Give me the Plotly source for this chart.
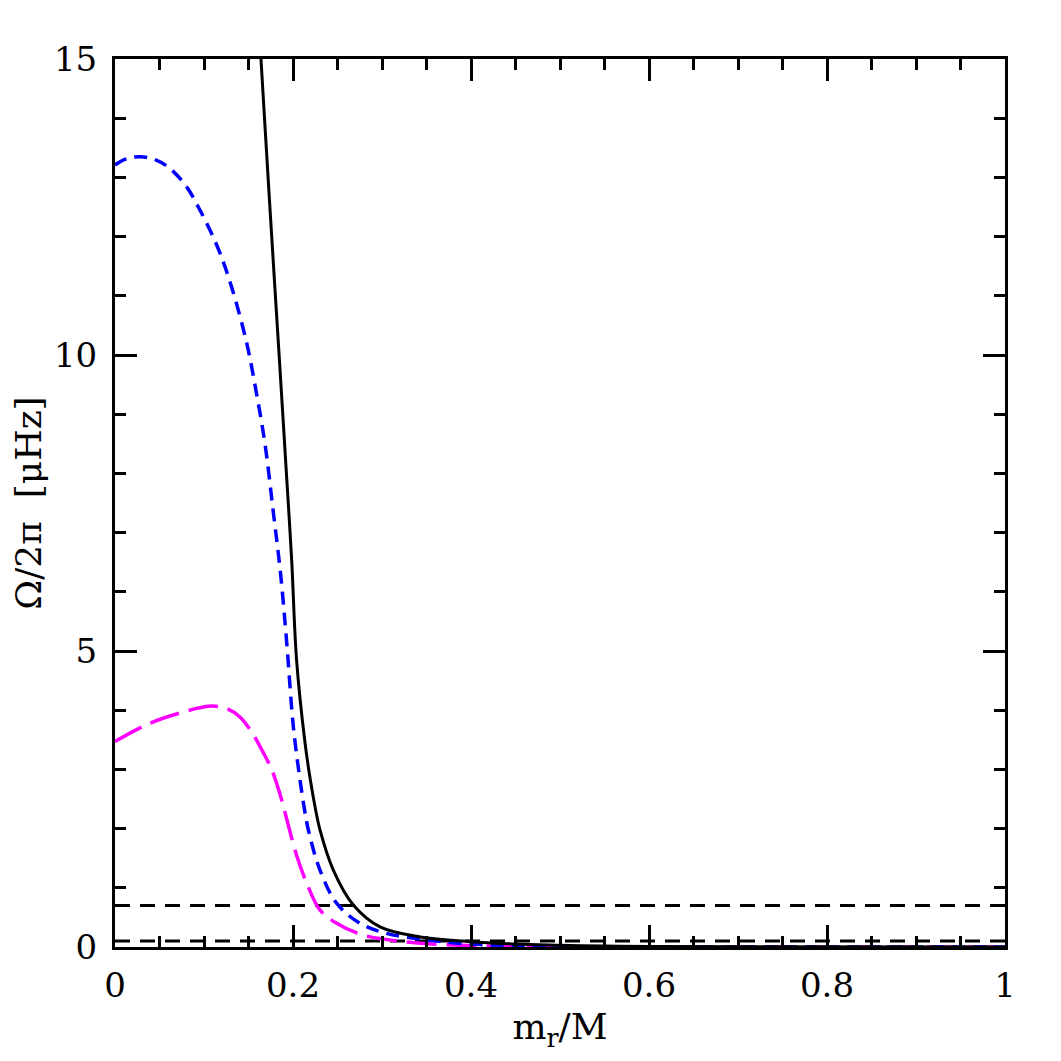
import plotly.graph_objects as go

# black solid curve (runs off the top of the frame below x~0.16)
x_solid = [0.12, 0.14, 0.152, 0.164, 0.172, 0.180, 0.1844, 0.1926, 0.1985, 0.204, 0.2135,
           0.2195, 0.2255, 0.2303, 0.2453, 0.2678, 0.2978, 0.343, 0.399, 0.45, 0.50, 0.55, 0.60, 0.70, 1.0]
y_solid = [25.8, 20.9, 17.9, 15.0, 13.0, 11.05, 10.0, 8.0, 6.54, 4.85, 3.45,
           2.82, 2.31, 1.98, 1.30, 0.71, 0.34, 0.17, 0.09, 0.05, 0.03, 0.015, 0.008, 0.003, 0.0]

# blue short-dashed curve
x_blue = [0.0, 0.012, 0.028, 0.045, 0.0618, 0.0805, 0.0936, 0.1067, 0.118, 0.131, 0.148,
          0.159, 0.1685, 0.178, 0.186, 0.193, 0.2004, 0.2079, 0.2124, 0.2172, 0.2303,
          0.249, 0.2753, 0.305, 0.35, 0.40, 0.45, 0.50, 0.60, 1.0]
y_blue = [13.21, 13.31, 13.35, 13.30, 13.15, 12.84, 12.5, 12.11, 11.72, 11.15, 10.2,
          9.35, 8.5, 7.33, 6.31, 5.13, 3.72, 2.82, 2.37, 1.98, 1.30,
          0.74, 0.40, 0.23, 0.12, 0.05, 0.025, 0.01, 0.003, 0.0]

# magenta long-dashed curve
x_mag = [0.0, 0.0393, 0.0767, 0.095, 0.11, 0.125, 0.14, 0.154, 0.166, 0.176, 0.186,
         0.194, 0.204, 0.217, 0.230, 0.249, 0.279, 0.324, 0.37, 0.42, 0.50, 1.0]
y_mag = [3.47, 3.78, 3.97, 4.04, 4.07, 4.03, 3.89, 3.62, 3.3, 3.0, 2.55,
         2.1, 1.55, 1.02, 0.63, 0.40, 0.20, 0.09, 0.04, 0.015, 0.004, 0.0]

# horizontal reference levels
x_ref = [0.0, 1.0]
y_ref1 = [0.7, 0.7]
y_ref2 = [0.1, 0.1]

fig = go.Figure()
fig.add_trace(go.Scatter(x=x_ref, y=y_ref1, mode='lines',
                         line=dict(color='black', width=3, dash='15px,10px')))
fig.add_trace(go.Scatter(x=x_ref, y=y_ref2, mode='lines',
                         line=dict(color='black', width=3, dash='15px,10px')))
fig.add_trace(go.Scatter(x=x_mag, y=y_mag, mode='lines', line_shape='spline',
                         line=dict(color='#ff00ff', width=3.5, dash='30px,10px')))
fig.add_trace(go.Scatter(x=x_blue, y=y_blue, mode='lines', line_shape='spline',
                         line=dict(color='#0000ff', width=3.5, dash='13px,8px')))
fig.add_trace(go.Scatter(x=x_solid, y=y_solid, mode='lines', line_shape='spline',
                         line=dict(color='black', width=3)))

tickfont = dict(family='DejaVu Serif', size=34, color='black')
titlefont = dict(family='DejaVu Serif', size=36, color='black')
axis = dict(showline=True, linewidth=3, linecolor='black', mirror='allticks',
            ticks='inside', tickwidth=3, tickcolor='black', ticklen=22,
            showgrid=False, zeroline=False, tickfont=tickfont, automargin=False)

fig.update_xaxes(range=[0, 1], dtick=0.2, tickformat='~g', ticklabelstandoff=6,
                 minor=dict(dtick=0.05, ticks='inside', ticklen=11, tickwidth=3, tickcolor='black'),
                 title=dict(text='m<sub>r</sub>/M', font=titlefont, standoff=20), **axis)
fig.update_yaxes(range=[0, 15], dtick=5, ticklabelstandoff=8,
                 minor=dict(dtick=1, ticks='inside', ticklen=11, tickwidth=3, tickcolor='black'),
                 title=dict(text='Ω/2π  [μHz]', font=titlefont, standoff=12), **axis)

# page body adds an 8px margin, so the figure is sized to fit the window
fig.update_layout(width=1045, height=1045, showlegend=False,
                  plot_bgcolor='white', paper_bgcolor='white',
                  margin=dict(l=107, r=48, t=51, b=106))

fig.write_html("out.html")
